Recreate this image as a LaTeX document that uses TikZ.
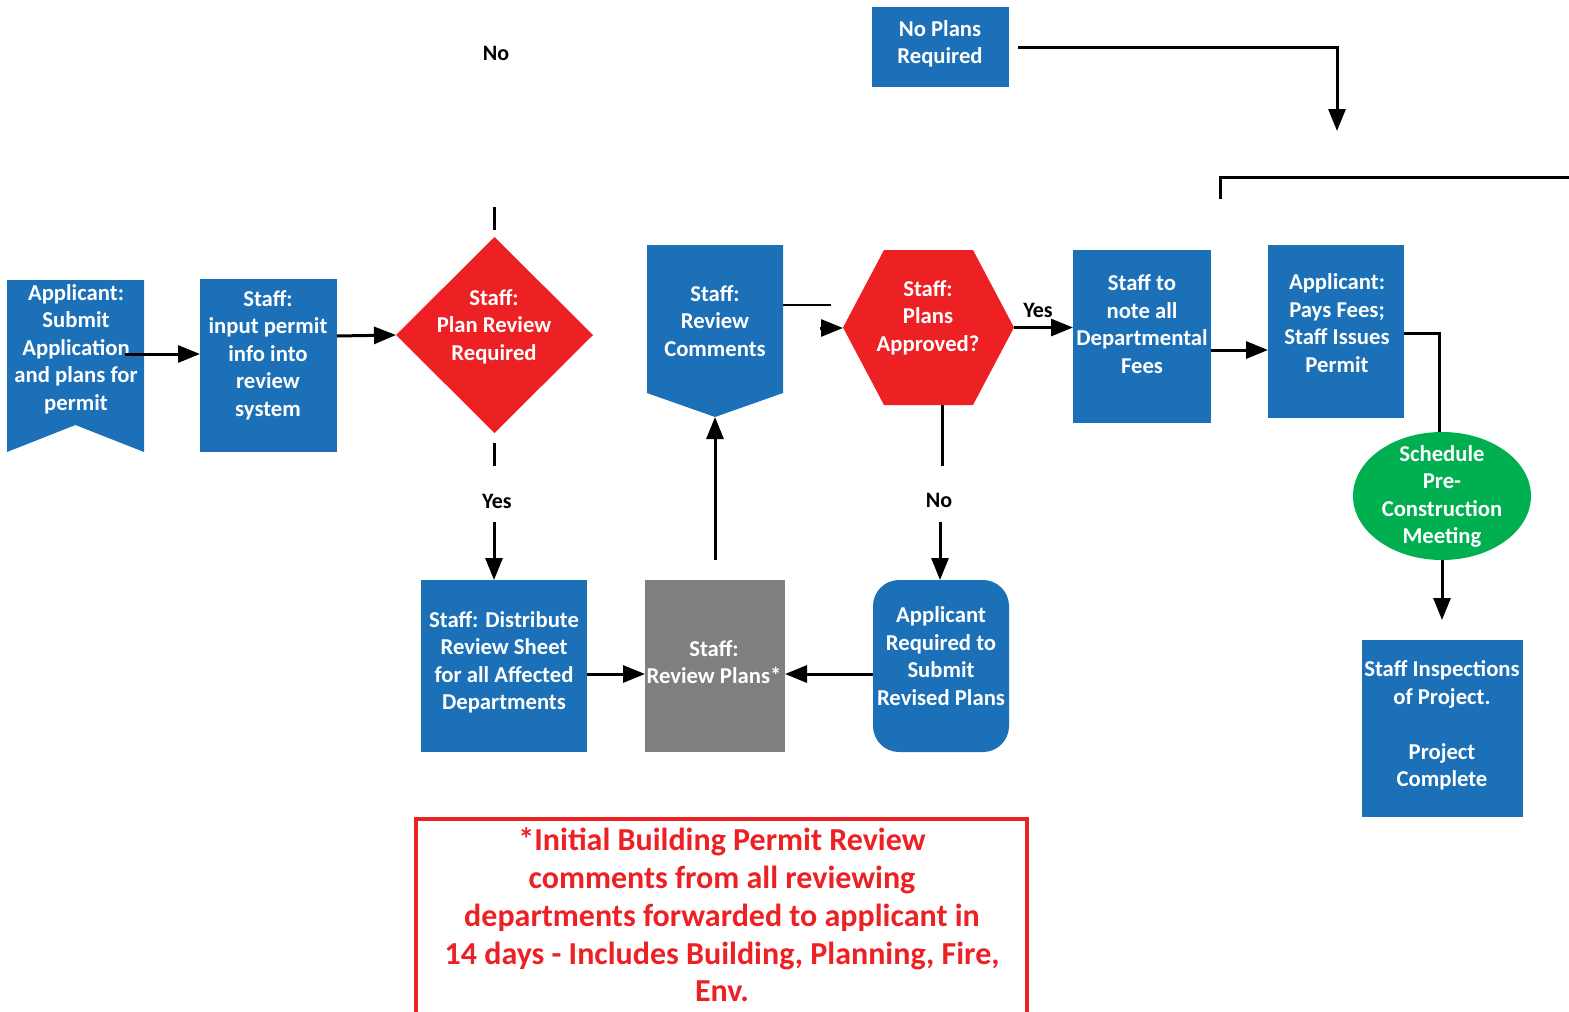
\documentclass[tikz,border=0pt]{standalone}
\usepackage{fontspec}
\setmainfont{Carlito}
\usetikzlibrary{arrows.meta,calc,shapes.geometric}
\definecolor{bblue}{RGB}{28,112,183}
\definecolor{rred}{RGB}{237,32,36}
\definecolor{ggreen}{RGB}{0,176,80}
\definecolor{ggray}{RGB}{127,127,127}
\tikzset{
 txt/.style={text=white,font=\bfseries\fontsize{22.7}{27.5}\selectfont,align=center,inner sep=0pt},
 lbl/.style={font=\bfseries\fontsize{22}{24}\selectfont,inner sep=0pt},
 shp/.style={inner sep=0pt,outer sep=0pt},
 bbox/.style={shp,fill=bblue},
 conn/.style={line width=3pt,-{Triangle[length=22pt,width=17pt]}},
 plainline/.style={line width=3pt},
}
\begin{document}
\begin{tikzpicture}[x=1pt,y=-1pt]
\useasboundingbox (0,0) rectangle (1569,1012);

% Applicant banner
\node[shp,minimum width=137pt,minimum height=172pt] (app) at (75.5,366) {};
\fill[bblue] (app.north west) -- (app.north east) -- (app.south east) -- ($(app.south)+(0,-27)$) -- (app.south west) -- cycle;
\node[txt] (appt) at (76,349) {Applicant:\\Submit\\Application\\and plans for\\permit};

% Staff input
\node[bbox,minimum width=137pt,minimum height=173pt] (inp) at (268.5,365.5) {};
\node[txt] (inpt) at (268,355) {Staff:\\input permit\\info into\\review\\system};

% Diamond
\node[shp,minimum width=197pt,minimum height=196pt] (dia) at (494.5,335) {};
\fill[rred] (dia.north) -- (dia.east) -- (dia.south) -- (dia.west) -- cycle;
\node[txt] (diat) at (494,326.5) {Staff:\\Plan Review\\Required};

% Review comments pentagon
\node[shp,minimum width=136pt,minimum height=172pt] (rc) at (715,331) {};
\fill[bblue] (rc.north west) -- (rc.north east) -- ($(rc.south east)+(0,-24)$) -- (rc.south) -- ($(rc.south west)+(0,-24)$) -- cycle;
\node[txt] (rct) at (715,321) {Staff:\\Review\\Comments};

% Hexagon
\node[shp,minimum width=171pt,minimum height=155pt] (hex) at (928.5,327.5) {};
\fill[rred] ($(hex.north west)+(41,0)$) -- ($(hex.north east)+(-41,0)$) -- (hex.east) -- ($(hex.south east)+(-41,0)$) -- ($(hex.south west)+(41,0)$) -- (hex.west) -- cycle;
\node[txt] (hext) at (928,317.5) {Staff:\\Plans\\Approved?};

% Fees
\node[bbox,minimum width=138pt,minimum height=173pt] (fees) at (1142,336.5) {};
\node[txt] (feest) at (1142,324) {Staff to\\note all\\Departmental\\Fees};

% Pays
\node[bbox,minimum width=136pt,minimum height=173pt] (pays) at (1336,331.5) {};
\node[txt] (payst) at (1337,323) {Applicant:\\Pays Fees;\\Staff Issues\\Permit};

% Ellipse
\node[shp,ellipse,fill=ggreen,minimum width=178pt,minimum height=128pt] (ell) at (1442,496) {};
\node[txt] (ellt) at (1442,496.5) {Schedule\\Pre-\\Construction\\Meeting};

% Inspections
\node[bbox,minimum width=161pt,minimum height=177pt] (insp) at (1442.5,728.5) {};
\node[txt] (inspt) at (1442,725.5) {Staff Inspections\\of Project.\\[27.5pt]Project\\Complete};

% No plans
\node[bbox,minimum width=137pt,minimum height=80pt] (np) at (940.5,47) {};
\node[txt] (npt) at (940,44) {No Plans\\Required};

% Distribute
\node[bbox,minimum width=166pt,minimum height=172pt] (dist) at (504,666) {};
\node[txt] (distt) at (504,662.5) {Staff: Distribute\\Review Sheet\\for all Affected\\Departments};

% Review plans
\node[shp,fill=ggray,minimum width=140pt,minimum height=172pt] (rp) at (715,666) {};
\node[txt] (rpt) at (714,662) {Staff:\\Review Plans*};

% Revised
\node[shp,fill=bblue,rounded corners=26pt,minimum width=136pt,minimum height=172pt] (rev) at (941,666) {};
\node[txt] (revt) at (941,656) {Applicant\\Required to\\Submit\\Revised Plans};

% Note box
\node[shp,draw=rred,line width=4pt,minimum width=611pt,minimum height=211pt] (note) at (721.5,924.5) {};
\node[txt,text=rred,font=\bfseries\fontsize{32}{37.8}\selectfont] (notet) at (722,915) {*Initial Building Permit Review\\comments from all reviewing\\departments forwarded to applicant in\\14 days - Includes Building, Planning, Fire,\\Env.};

% Labels
\node[lbl] (no1) at (496,53) {No};
\node[lbl] (yes1) at (497,501) {Yes};
\node[lbl] (yes2) at (1038,310) {Yes};
\node[lbl] (no2) at (939,500) {No};

% Connectors
\coordinate (a1) at (125,354);
\draw[conn] (a1) -- (inp.west |- a1);
\draw[conn] (inp.east |- 0,336) -- (dia.west);
\draw[plainline] ($(dia.north)+(0,-7)$) -- ($(dia.north)+(0,-30)$);
\draw[plainline] ($(dia.south)+(0,10)$) -- ($(dia.south)+(0,33)$);
\coordinate (ys) at (494,522);
\draw[conn] (ys) -- (dist.north -| ys);
\draw[conn] (dist.east |- 0,674) -- (rp.west |- 0,674);
\draw[conn] (rev.west |- 0,674) -- (rp.east |- 0,674);
\coordinate (rps) at (715,560);
\draw[conn] (rps) -- (rc.south);
\coordinate (rce) at (831,305);
\draw[line width=2pt] (rc.east |- rce) -- (rce);
\coordinate (hs) at (820,328);
\draw[conn] (hs) -- (hex.west |- hs);
\draw[conn] (hex.east) -- (fees.west |- hex.east);
\coordinate (hb) at (942,466);
\draw[plainline] (hex.south -| hb) -- (hb);
\coordinate (ns) at (940,522);
\draw[conn] (ns) -- (rev.north -| ns);
\draw[conn] (fees.east |- 0,350) -- (pays.west |- 0,350);
\draw[plainline] (pays.east |- 0,333) -| (ell.north -| 1439,0);
\coordinate (ie) at (1442,620);
\draw[conn] (ell.south) -- (ie);
\coordinate (npe) at (1337,131);
\draw[conn] ($(np.east)+(9,0)$) -| (npe);
\coordinate (tl) at (1220,199);
\coordinate (tr) at (1575,177);
\draw[plainline] (tl) |- (tr);
\end{tikzpicture}
\end{document}
